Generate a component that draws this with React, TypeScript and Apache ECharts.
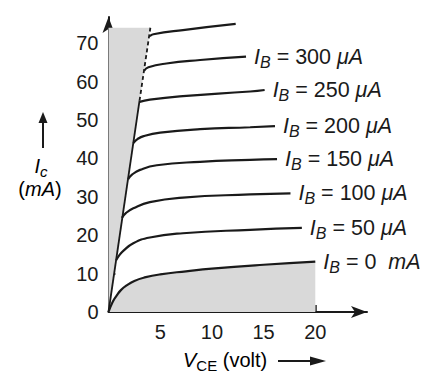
import React, { useEffect, useRef } from "react";
import * as echarts from "echarts";

// ---- data ----
const xTicks = [5, 10, 15, 20];
const yTickLabels = [0, 10, 20, 30, 40, 50, 60, 70];
const yTicks = [10, 20, 30, 40, 50, 60, 70];

const ib0 = [[0, 0], [0.4, 2.6], [0.8, 4.3], [1.2, 5.7], [1.8, 7.0], [2.5, 8.1], [3.5, 9.0], [5, 9.8], [7.5, 10.6], [10, 11.3], [15, 12.3], [20, 13.1]];
const ib50 = [[0.75, 13.5], [1.0, 14.6], [1.43, 15.9], [2.4, 17.9], [4.0, 19.4], [7.2, 20.5], [13.7, 21.4], [18.7, 21.9]];
const ib100 = [[1.3, 24.5], [1.7, 25.8], [2.4, 27.0], [4.0, 28.6], [7.2, 29.8], [13.7, 30.6], [17.6, 30.9]];
const ib150 = [[1.9, 34.6], [2.3, 35.8], [3.05, 37.0], [4.67, 38.2], [8.86, 39.1], [13.7, 39.6], [16.3, 39.8]];
const ib200 = [[2.4, 44.0], [2.8, 45.0], [3.4, 45.8], [5, 46.7], [8.86, 47.6], [13.7, 48.1], [16.1, 48.4]];
const ib250 = [[3.0, 54.7], [4.0, 55.3], [7.2, 56.2], [13.7, 57.4], [15.1, 57.8]];
const ib300 = [[3.45, 62.8], [3.86, 63.7], [5.6, 64.7], [8.86, 65.6], [13.3, 66.5]];
const ibTop = [[4.0, 71.8], [4.34, 72.3], [7.2, 73.4], [12.3, 75.0]];

const satSolid = [[0, 0], [3.0, 55]];
const satDashed = [[3.0, 55], [4.05, 74]];
const wedge = [[0, 0], [0, 74], [4.05, 74]];

const curveLabels = ["300", "250", "200", "150", "100", "50"];

const FONT = "'Liberation Sans', Arial, Helvetica, sans-serif";
const INK = "#1a1a1a";
const GRAY = "#d9d9d9";

const richBase = {
  i: { fontFamily: FONT, fontSize: 20, fontStyle: "italic", color: INK },
  s: { fontFamily: FONT, fontSize: 15, fontStyle: "italic", color: INK, padding: [10, 0, 0, 0] },
  su: { fontFamily: FONT, fontSize: 15, color: INK, padding: [10, 0, 0, 0] },
  n: { fontFamily: FONT, fontSize: 20, color: INK },
};

const richCurve = {
  i: { fontFamily: FONT, fontSize: 21.5, fontStyle: "italic", color: INK },
  s: { fontFamily: FONT, fontSize: 16, fontStyle: "italic", color: INK, padding: [11, 0, 0, 0] },
  n: { fontFamily: FONT, fontSize: 21.5, color: INK },
};

function curve(data: number[][], label: string | null, extra: any = {}) {
  return {
    type: "line",
    data,
    smooth: 0.5,
    showSymbol: false,
    symbol: "none",
    silent: true,
    lineStyle: { color: INK, width: 2.2 },
    z: 5,
    endLabel: label
      ? {
          show: true,
          distance: 8,
          formatter: label,
          rich: richCurve,
        }
      : { show: false },
    ...extra,
  };
}

export default function App() {
  const ref = useRef<HTMLDivElement>(null);
  useEffect(() => {
    if (!ref.current) return;
    document.body.style.margin = "0";
    const chart = echarts.init(ref.current, null, { renderer: "svg" });
    const lab = (v: string) => `{i|I}{s|B}{n| = ${v} }{i|μA}`;
    const option: any = {
      animation: false,
      grid: { left: 108.5, right: 62, top: 17, bottom: 70 },
      xAxis: {
        type: "value",
        min: 0,
        max: 25,
        axisLine: {
          show: true,
          symbol: ["none", "arrow"],
          symbolSize: [9, 16],
          lineStyle: { color: INK, width: 2 },
        },
        axisTick: { show: true, inside: true, length: 7, customValues: xTicks, lineStyle: { color: INK, width: 1.5 } },
        axisLabel: { customValues: xTicks, margin: 10, fontSize: 20, fontFamily: FONT, color: INK },
        splitLine: { show: false },
      },
      yAxis: {
        type: "value",
        min: 0,
        max: 76.8,
        axisLine: {
          show: true,
          symbol: ["none", "arrow"],
          symbolSize: [9, 16],
          lineStyle: { color: INK, width: 2 },
        },
        axisTick: { show: true, inside: true, length: 7, customValues: yTicks, lineStyle: { color: INK, width: 1.5 } },
        axisLabel: { customValues: yTickLabels, margin: 10, fontSize: 20, fontFamily: FONT, color: INK },
        splitLine: { show: false },
      },
      series: [
        {
          type: "custom",
          data: [0],
          silent: true,
          z: 1,
          renderItem: (_p: any, api: any) => ({
            type: "polygon",
            shape: { points: wedge.map((p) => api.coord(p)) },
            style: { fill: GRAY },
          }),
        },
        curve(ib0, "{i|I}{s|B}{n| = 0  }{i|mA}", {
          areaStyle: { color: GRAY, opacity: 1 },
        }),
        curve(ib50, lab(curveLabels[5])),
        curve(ib100, lab(curveLabels[4])),
        curve(ib150, lab(curveLabels[3])),
        curve(ib200, lab(curveLabels[2])),
        curve(ib250, lab(curveLabels[1])),
        curve(ib300, lab(curveLabels[0])),
        curve(ibTop, null),
        {
          type: "line",
          data: satSolid,
          showSymbol: false,
          symbol: "none",
          silent: true,
          lineStyle: { color: INK, width: 1.8 },
          z: 4,
        },
        {
          type: "line",
          data: satDashed,
          showSymbol: false,
          symbol: "none",
          silent: true,
          lineStyle: { color: INK, width: 1.8, type: [4, 3] },
          z: 4,
        },
      ],
      graphic: [
        // y-axis title
        { type: "line", shape: { x1: 43, y1: 148, x2: 43, y2: 120 }, style: { stroke: INK, lineWidth: 2 } },
        { type: "polygon", shape: { points: [[38.5, 123], [43, 112], [47.5, 123]] }, style: { fill: INK } },
        {
          type: "text",
          x: 41,
          y: 166,
          style: {
            text: "{i|I}{s|c}",
            rich: richBase,
            align: "center",
            verticalAlign: "middle",
          },
        },
        {
          type: "text",
          x: 40,
          y: 189,
          style: {
            text: "{n|(}{i|mA}{n|)}",
            rich: richBase,
            align: "center",
            verticalAlign: "middle",
          },
        },
        // x-axis title
        {
          type: "text",
          x: 183,
          y: 360,
          style: {
            text: "{i|V}{su|CE}{n| (volt)}",
            rich: richBase,
            align: "left",
            verticalAlign: "middle",
          },
        },
        { type: "line", shape: { x1: 278, y1: 361, x2: 314, y2: 361 }, style: { stroke: INK, lineWidth: 2 } },
        { type: "polygon", shape: { points: [[310, 356.5], [326, 361], [310, 365.5]] }, style: { fill: INK } },
      ],
    };
    chart.setOption(option);
    return () => chart.dispose();
  }, []);
  return <div ref={ref} style={{ width: 429, height: 382 }} />;
}
